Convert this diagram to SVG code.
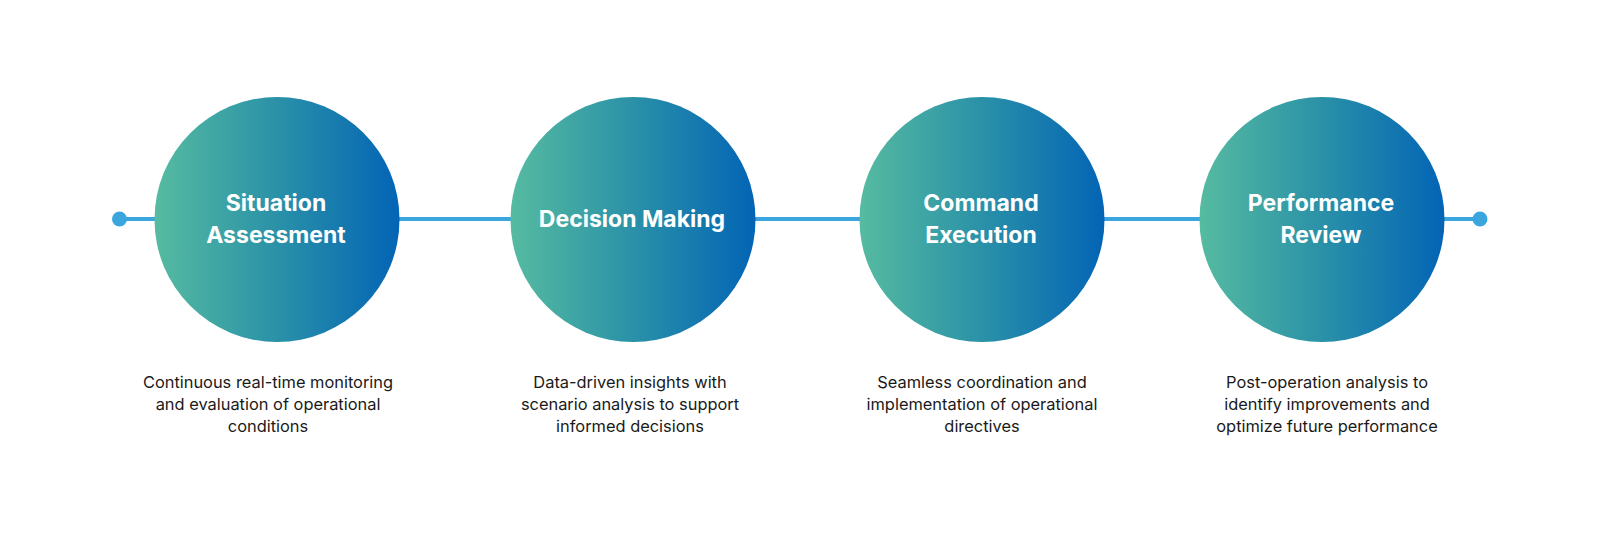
<svg xmlns="http://www.w3.org/2000/svg" width="1600" height="533" viewBox="0 0 1600 533">
<defs>
<linearGradient id="g" x1="0" y1="0" x2="1" y2="0">
<stop offset="0" stop-color="#56bba0"/>
<stop offset="0.5" stop-color="#2a91a8"/>
<stop offset="1" stop-color="#0364b5"/>
</linearGradient>
<style>
.c{fill:url(#g)}
.t{font-family:Inter,"Liberation Sans",sans-serif;font-weight:700;font-size:23px;fill:#ffffff;text-anchor:middle}
.d{font-family:Inter,"Liberation Sans",sans-serif;font-weight:400;font-size:16.4px;fill:#1a1a1a;text-anchor:middle}
.ln{stroke:#3ba6de;stroke-width:4;fill:none}
.dot{fill:#3ba6de}
</style>
</defs>
<rect width="1600" height="533" fill="#ffffff"/>
<g id="connectors">
<line class="ln" x1="119.5" y1="219" x2="1480" y2="219"/>
<circle class="dot" cx="119.5" cy="219" r="7.5"/>
<circle class="dot" cx="1480" cy="219" r="7.5"/>
</g>
<g id="node-situation">
<circle class="c" cx="277" cy="219.5" r="122.5"/>
<text class="t" x="276" y="211">Situation</text>
<text class="t" x="276" y="243">Assessment</text>
<text class="d" x="268" y="388">Continuous real-time monitoring</text>
<text class="d" x="268" y="410">and evaluation of operational</text>
<text class="d" x="268" y="432">conditions</text>
</g>
<g id="node-decision">
<circle class="c" cx="633" cy="219.5" r="122.5"/>
<text class="t" x="632" y="227">Decision Making</text>
<text class="d" x="630" y="388">Data-driven insights with</text>
<text class="d" x="630" y="410">scenario analysis to support</text>
<text class="d" x="630" y="432">informed decisions</text>
</g>
<g id="node-command">
<circle class="c" cx="982" cy="219.5" r="122.5"/>
<text class="t" x="981" y="211">Command</text>
<text class="t" x="981" y="243">Execution</text>
<text class="d" x="982" y="388">Seamless coordination and</text>
<text class="d" x="982" y="410">implementation of operational</text>
<text class="d" x="982" y="432">directives</text>
</g>
<g id="node-performance">
<circle class="c" cx="1322" cy="219.5" r="122.5"/>
<text class="t" x="1321" y="211">Performance</text>
<text class="t" x="1321" y="243">Review</text>
<text class="d" x="1327" y="388">Post-operation analysis to</text>
<text class="d" x="1327" y="410">identify improvements and</text>
<text class="d" x="1327" y="432">optimize future performance</text>
</g>
</svg>
